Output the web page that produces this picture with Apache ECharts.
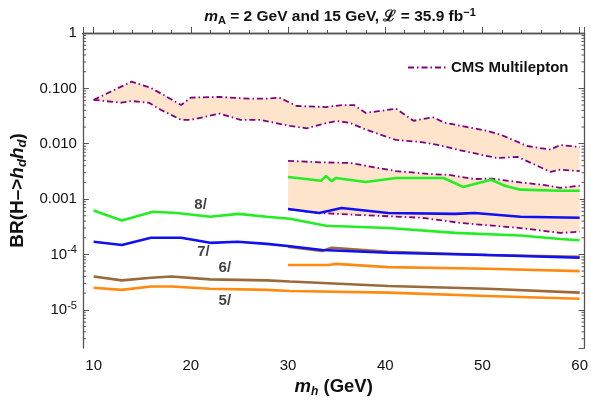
<!DOCTYPE html>
<html><head><meta charset="utf-8">
<script src="https://cdn.jsdelivr.net/npm/echarts@6/dist/echarts.min.js"></script>
<style>html,body{margin:0;padding:0;background:#fff}#c{width:591px;height:404px}</style>
</head><body><div id="c"></div>
<script>
// ---- data (BR values) ----
const bandHiUpX = [10,13.9,15.9,19.0,20.0,23.0,26.1,27.8,29.1,30.9,33.9,35.6,36.8,38.0,41.1,42.9,44.9,46.1,50.5,51.9,54.6,57.0,58.0,60];
const bandHiUpY = [0.062,0.132,0.102,0.050,0.068,0.070,0.065,0.065,0.068,0.048,0.046,0.050,0.050,0.036,0.043,0.026,0.030,0.024,0.017,0.0145,0.0091,0.0078,0.0095,0.0087];
const bandHiLoX = [10,12.85,13.9,15.7,16.9,19.0,20.0,23.0,25.1,27.1,30.2,31.9,33.9,35.0,36.3,38.0,41.1,43.7,45.4,48.5,51.5,53.6,57.0,58.0,60];
const bandHiLoY = [0.062,0.055,0.059,0.055,0.041,0.027,0.027,0.035,0.027,0.027,0.021,0.019,0.0235,0.0257,0.024,0.018,0.0117,0.0107,0.0095,0.0071,0.0055,0.0058,0.0031,0.0034,0.0032];
const bandLoUpX = [30,33.5,36.3,38,41.1,45.1,46.5,49.2,50.9,53.9,56.3,58,60];
const bandLoUpY = [0.0049,0.0046,0.0045,0.0040,0.0032,0.0028,0.00275,0.0023,0.00235,0.0020,0.0018,0.0016,0.00174];
const bandLoLoX = [30,33.2,37,43.7,47.8,53.9,58,60];
const bandLoLoY = [0.00066,0.00056,0.00052,0.00046,0.00037,0.00030,0.000245,0.000257];

const green30X = [30,33.4,33.9,34.5,34.9,38,41.1,46,48,50.9,52.3,53.9,58,60];
const green30Y = [0.0025,0.00214,0.00263,0.00209,0.0024,0.00204,0.0024,0.0024,0.00166,0.00224,0.00174,0.00148,0.00141,0.00141];
const green10X = [10,12.9,16.1,18.6,22,24.9,27.8,30.2,33.9,40.3,47.2,53.9,58,60];
const green10Y = [0.00062,0.00041,0.00059,0.00056,0.00048,0.00054,0.00048,0.00044,0.00033,0.00030,0.000245,0.00022,0.00019,0.00018];
const blue30X = [30,33.2,35.5,40.3,47.2,49.2,53.9,60];
const blue30Y = [0.00066,0.00056,0.00069,0.00056,0.00054,0.00056,0.00048,0.00046];
const blue10X = [10,12.9,15.9,19,22,24.8,27.8,30.2,33.5,40.3,50.5,60];
const blue10Y = [0.00017,0.000148,0.0002,0.0002,0.000162,0.00017,0.000155,0.000141,0.00012,0.000107,0.000098,0.000087];
const brown30X = [30,33.5,34.5,40.3,50.5,60];
const brown30Y = [0.000138,0.000115,0.000132,0.000112,0.000098,0.000091];
const brown10X = [10,12.9,15.9,18,22,27.8,30.2,40.3,50.5,60];
const brown10Y = [0.00004,0.000034,0.000038,0.00004,0.0000355,0.000034,0.0000324,0.0000269,0.000024,0.0000204];
const orange30X = [30,34.2,34.9,40.3,50.5,60];
const orange30Y = [0.0000646,0.0000646,0.0000676,0.0000589,0.000055,0.00005];
const orange10X = [10,12.9,15.9,18,22,27.8,30.2,40.3,50.5,60];
const orange10Y = [0.0000251,0.0000229,0.0000263,0.0000263,0.000024,0.0000229,0.0000219,0.0000204,0.0000178,0.0000158];

const noteText = ['8/','7/','6/','5/'];
const noteX = [21.0,21.3,23.5,23.5];
const noteY = [0.00079,0.000112,0.0000575,0.0000145];

const yTickLabels = {'0':'1','-1':'0.100','-2':'0.010','-3':'0.001','-4':'10{sup|-4}','-5':'10{sup|-5}'};
const xMin = 8.9, xMax = 60.5, yMinLog = -5.69, yMaxLog = 0;

// ---- helpers ----
const L = v => Math.log10(v);
const pts = (xs, ys) => xs.map((x,i)=>[x, L(ys[i])]);
const FONT = 'Liberation Sans';
const PURPLE = '#800080', FILL = '#FFE4CC';
const GREEN = '#22EE22', BLUE = '#1010F0', BROWN = '#9A6A3A', ORANGE = '#FF8A10';
const dashDot = [6,3,1.5,3];

function band(up, lo) {
  return {
    type:'custom', silent:true, z:1, clip:true,
    data:[up[0]],
    renderItem:(params, api)=>{
      const p = up.map(q=>api.coord(q)).concat(lo.slice().reverse().map(q=>api.coord(q)));
      return {type:'polygon', shape:{points:p}, style:{fill:FILL}};
    }
  };
}
function line(name, data, color, width, type) {
  return {type:'line', name, data, symbol:'none', showSymbol:false, z:3,
    lineStyle:{color, width, type:type||'solid'}, itemStyle:{color}, animation:false};
}
// minor log ticks (2..9 x 10^d)
const minorVals = [];
for (let d=-6; d<0; d++) for (let k=2;k<=9;k++){ const v=L(k*Math.pow(10,d)); if(v>yMinLog && v<yMaxLog) minorVals.push([xMin, v]); }

const chart = echarts.init(document.getElementById('c'), null, {renderer:'canvas'});
chart.setOption({
  animation:false,
  backgroundColor:'#fff',
  textStyle:{fontFamily:FONT},
  title:{
    text:'{i|m}{sub|A}{n| = 2 GeV and 15 GeV, ℒ = 35.9 fb}{sup|−1}',
    left:335, top:2, textAlign:'center',
    textStyle:{rich:{
      n:{fontFamily:FONT,fontWeight:'bold',fontSize:15.5,color:'#111'},
      i:{fontFamily:FONT,fontWeight:'bold',fontStyle:'italic',fontSize:15.5,color:'#111'},
      sub:{fontFamily:FONT,fontWeight:'bold',fontSize:11,color:'#111',verticalAlign:'bottom',padding:[8,0,0,0]},
      sup:{fontFamily:FONT,fontWeight:'bold',fontSize:11,color:'#111',verticalAlign:'top',padding:[0,0,8,0]}
    }}
  },
  legend:{
    data:['CMS Multilepton'], left:402, top:55, itemWidth:38, itemHeight:10,
    itemStyle:{opacity:0},
    textStyle:{fontFamily:FONT,fontWeight:'bold',fontSize:15,color:'#111'}
  },
  grid:{left:81, right:3, top:33, bottom:56, containLabel:false},
  xAxis:[{
    type:'value', min:xMin, max:xMax, position:'bottom',
    name:'{i|m}{s|h}{n| (GeV)}', nameLocation:'middle', nameGap:27,
    nameTextStyle:{rich:{
      n:{fontFamily:FONT,fontWeight:'bold',fontSize:18.5,color:'#111'},
      i:{fontFamily:FONT,fontWeight:'bold',fontStyle:'italic',fontSize:18.5,color:'#111'},
      s:{fontFamily:FONT,fontWeight:'bold',fontStyle:'italic',fontSize:12,color:'#111',verticalAlign:'bottom',padding:[9,0,0,0]}
    }},
    axisLine:{show:true,lineStyle:{color:'#555',width:1.3}},
    axisTick:{show:true,inside:true,length:6,lineStyle:{color:'#555'}},
    minorTick:{show:true,splitNumber:5,length:3,lineStyle:{color:'#555'}},
    splitLine:{show:false},
    axisLabel:{showMinLabel:false,showMaxLabel:false,margin:10,fontFamily:FONT,fontSize:15,color:'#111'}
  },{
    type:'value', min:xMin, max:xMax, position:'top',
    axisLine:{show:true,lineStyle:{color:'#555',width:1.3}},
    axisTick:{show:false}, minorTick:{show:false},
    splitLine:{show:false}, axisLabel:{show:false}
  }],
  yAxis:[{
    type:'value', min:yMinLog, max:yMaxLog, position:'left',
    name:'{n|BR(H–>}{i|h}{s|d}{i|h}{s|d}{n|)}', nameLocation:'middle', nameGap:53,
    nameTextStyle:{rich:{
      n:{fontFamily:FONT,fontWeight:'bold',fontSize:19,color:'#111'},
      i:{fontFamily:FONT,fontWeight:'bold',fontStyle:'italic',fontSize:19,color:'#111'},
      s:{fontFamily:FONT,fontWeight:'bold',fontStyle:'italic',fontSize:13,color:'#111',verticalAlign:'bottom',padding:[9,0,0,0]}
    }},
    axisLine:{show:true,lineStyle:{color:'#555',width:1.3}},
    axisTick:{show:true,inside:true,length:6,lineStyle:{color:'#555'}},
    splitLine:{show:false},
    axisLabel:{showMinLabel:false, margin:6, fontFamily:FONT, fontSize:15, color:'#111',
      formatter:v=>{const k=String(Math.round(v)); return Math.abs(v-Math.round(v))<1e-6 && yTickLabels[k]!==undefined ? yTickLabels[k] : '';},
      rich:{sup:{fontFamily:FONT,fontSize:11,color:'#111',verticalAlign:'top',padding:[0,0,8,0]}}
    }
  },{
    type:'value', min:yMinLog, max:yMaxLog, position:'right',
    axisLine:{show:true,lineStyle:{color:'#555',width:1.3}},
    axisTick:{show:true,inside:true,length:6,lineStyle:{color:'#555'}},
    splitLine:{show:false}, axisLabel:{show:false}
  }],
  series:[
    band(pts(bandHiUpX,bandHiUpY), pts(bandHiLoX,bandHiLoY)),
    band(pts(bandLoUpX,bandLoUpY), pts(bandLoLoX,bandLoLoY)),
    line('CMS Multilepton', pts(bandHiUpX,bandHiUpY), PURPLE, 1.8, dashDot),
    line('cms2', pts(bandHiLoX,bandHiLoY), PURPLE, 1.8, dashDot),
    line('cms3', pts(bandLoUpX,bandLoUpY), PURPLE, 1.8, dashDot),
    line('cms4', pts(bandLoLoX,bandLoLoY), PURPLE, 1.8, dashDot),
    line('g30', pts(green30X,green30Y), GREEN, 2.6),
    line('g10', pts(green10X,green10Y), GREEN, 2.6),
    line('o30', pts(orange30X,orange30Y), ORANGE, 2.6),
    line('o10', pts(orange10X,orange10Y), ORANGE, 2.6),
    line('br10', pts(brown10X,brown10Y), BROWN, 2.6),
    line('br30', pts(brown30X,brown30Y), BROWN, 2.6),
    line('b10', pts(blue10X,blue10Y), BLUE, 2.6),
    line('b30', pts(blue30X,blue30Y), BLUE, 2.6),
    {type:'scatter', silent:true, z:5, symbolSize:1, itemStyle:{color:'transparent'},
      data: noteX.map((x,i)=>({value:[x, L(noteY[i])], name:noteText[i]})),
      label:{show:true, position:'inside', formatter:p=>p.name, fontFamily:FONT, fontWeight:'bold', fontSize:15, color:'#111'}},
    {type:'custom', silent:true, z:6, data:minorVals,
      renderItem:(params, api)=>{
        const y = api.coord([xMin, api.value(1)])[1];
        const cs = params.coordSys;
        return {type:'group', children:[
          {type:'line', shape:{x1:cs.x, y1:y, x2:cs.x+3, y2:y}, style:{stroke:'#555', lineWidth:1}},
          {type:'line', shape:{x1:cs.x+cs.width, y1:y, x2:cs.x+cs.width-3, y2:y}, style:{stroke:'#555', lineWidth:1}}
        ]};
      }}
  ]
});
</script></body></html>
